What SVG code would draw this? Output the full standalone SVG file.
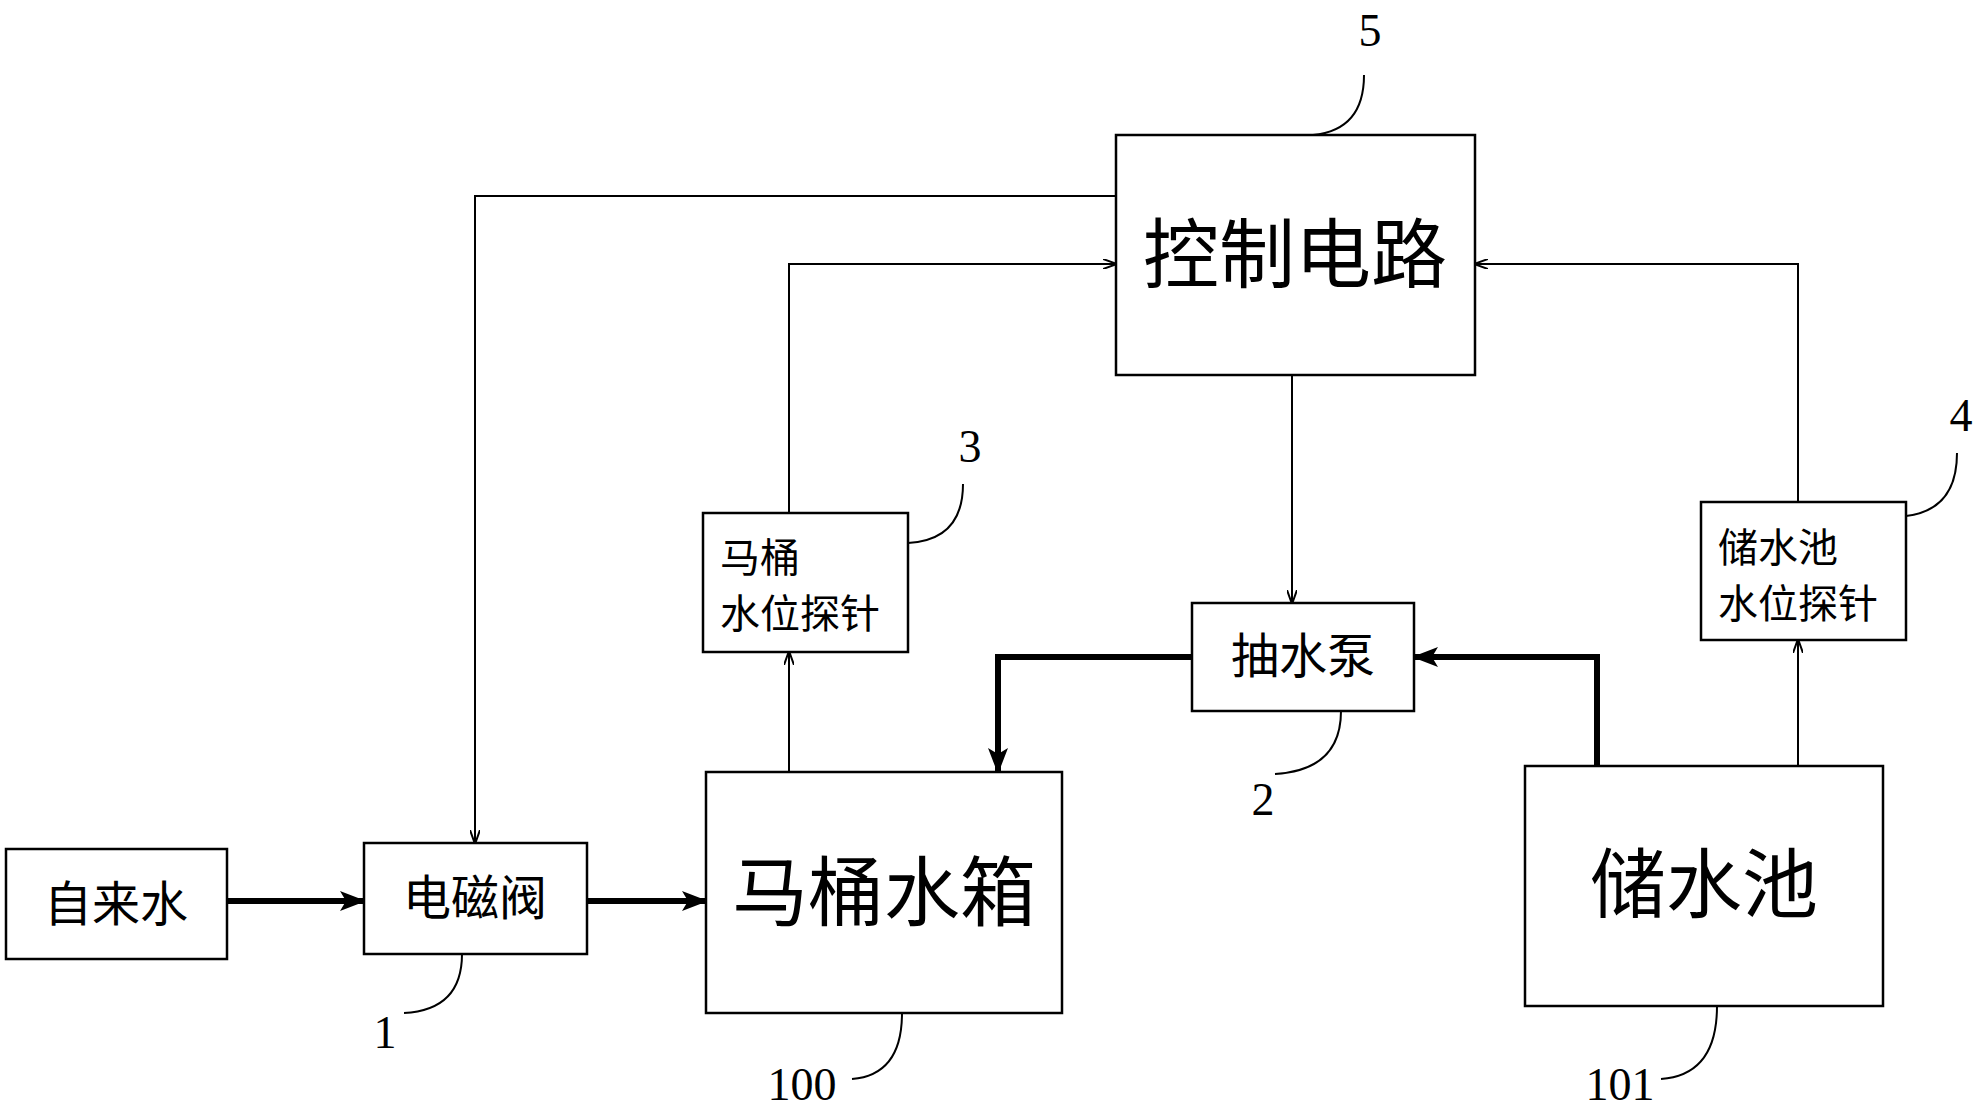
<svg xmlns="http://www.w3.org/2000/svg" width="1980" height="1112" viewBox="0 0 1980 1112">
<style>
.b{fill:#fff;stroke:#000;stroke-width:2.5}
.t{font-family:"Noto Sans CJK SC","Noto Sans",sans-serif;fill:#000}
.n{font-family:"Liberation Serif",serif;font-size:46px;fill:#000}
.l{fill:none;stroke:#000;stroke-width:2}
.k{fill:none;stroke:#000;stroke-width:6}
.c{fill:none;stroke:#000;stroke-width:2}
</style>
<defs>
<marker id="a" markerWidth="14" markerHeight="10" refX="13" refY="5" orient="auto" markerUnits="userSpaceOnUse"><path d="M0,0 L14,5 L0,10" fill="none" stroke="#000" stroke-width="2"/></marker>
<marker id="A" markerWidth="26" markerHeight="20" refX="24" refY="10" orient="auto" markerUnits="userSpaceOnUse"><path d="M0,0 L26,10 L0,20 L6,10Z" fill="#000"/></marker>
</defs>
<rect width="1980" height="1112" fill="#fff"/>
<g id="connectors">
<path class="l" d="M1116,196 H475 V843" marker-end="url(#a)"/>
<path class="l" d="M789,513 V264 H1116" marker-end="url(#a)"/>
<path class="l" d="M1292,375 V603" marker-end="url(#a)"/>
<path class="l" d="M1798,502 V264 H1475" marker-end="url(#a)"/>
<path class="l" d="M789,772 V652" marker-end="url(#a)"/>
<path class="l" d="M1798,766 V640" marker-end="url(#a)"/>
<path class="k" d="M1192,657 H998 V772" marker-end="url(#A)"/>
<path class="k" d="M1597,766 V657 H1414" marker-end="url(#A)"/>
<path class="k" d="M227,901 H364" marker-end="url(#A)"/>
<path class="k" d="M587,901 H706" marker-end="url(#A)"/>
</g>
<g id="n5"><rect class="b" x="1116" y="135" width="359" height="240"/><text class="t" x="1295" y="282" font-size="76" text-anchor="middle">控制电路</text></g>
<g id="tap"><rect class="b" x="6" y="849" width="221" height="110"/><text class="t" x="116" y="921" font-size="48" text-anchor="middle">自来水</text></g>
<g id="n1"><rect class="b" x="364" y="843" width="223" height="111"/><text class="t" x="475" y="915" font-size="48" text-anchor="middle">电磁阀</text></g>
<g id="n100"><rect class="b" x="706" y="772" width="356" height="241"/><text class="t" x="884" y="920" font-size="76" text-anchor="middle">马桶水箱</text></g>
<g id="n3"><rect class="b" x="703" y="513" width="205" height="139"/><text class="t" x="720" y="572" font-size="40">马桶</text><text class="t" x="720" y="628" font-size="40">水位探针</text></g>
<g id="n2"><rect class="b" x="1192" y="603" width="222" height="108"/><text class="t" x="1303" y="673" font-size="48" text-anchor="middle">抽水泵</text></g>
<g id="n101"><rect class="b" x="1525" y="766" width="358" height="240"/><text class="t" x="1704" y="912" font-size="76" text-anchor="middle">储水池</text></g>
<g id="n4"><rect class="b" x="1701" y="502" width="205" height="138"/><text class="t" x="1718" y="562" font-size="40">储水池</text><text class="t" x="1718" y="618" font-size="40">水位探针</text></g>
<g id="labels">
<path class="c" d="M1313,135 Q1364,130 1364,75"/><text class="n" x="1370" y="46" text-anchor="middle">5</text>
<path class="c" d="M908,543 Q963,540 963,484"/><text class="n" x="970" y="462" text-anchor="middle">3</text>
<path class="c" d="M1906,516 Q1957,510 1957,453"/><text class="n" x="1961" y="431" text-anchor="middle">4</text>
<path class="c" d="M1341,711 Q1341,770 1275,774"/><text class="n" x="1263" y="815" text-anchor="middle">2</text>
<path class="c" d="M462,954 Q462,1010 404,1013"/><text class="n" x="385" y="1048" text-anchor="middle">1</text>
<path class="c" d="M902,1013 Q902,1075 852,1079"/><text class="n" x="802" y="1100" text-anchor="middle">100</text>
<path class="c" d="M1717,1006 Q1717,1075 1661,1079"/><text class="n" x="1620" y="1100" text-anchor="middle">101</text>
</g>
</svg>
